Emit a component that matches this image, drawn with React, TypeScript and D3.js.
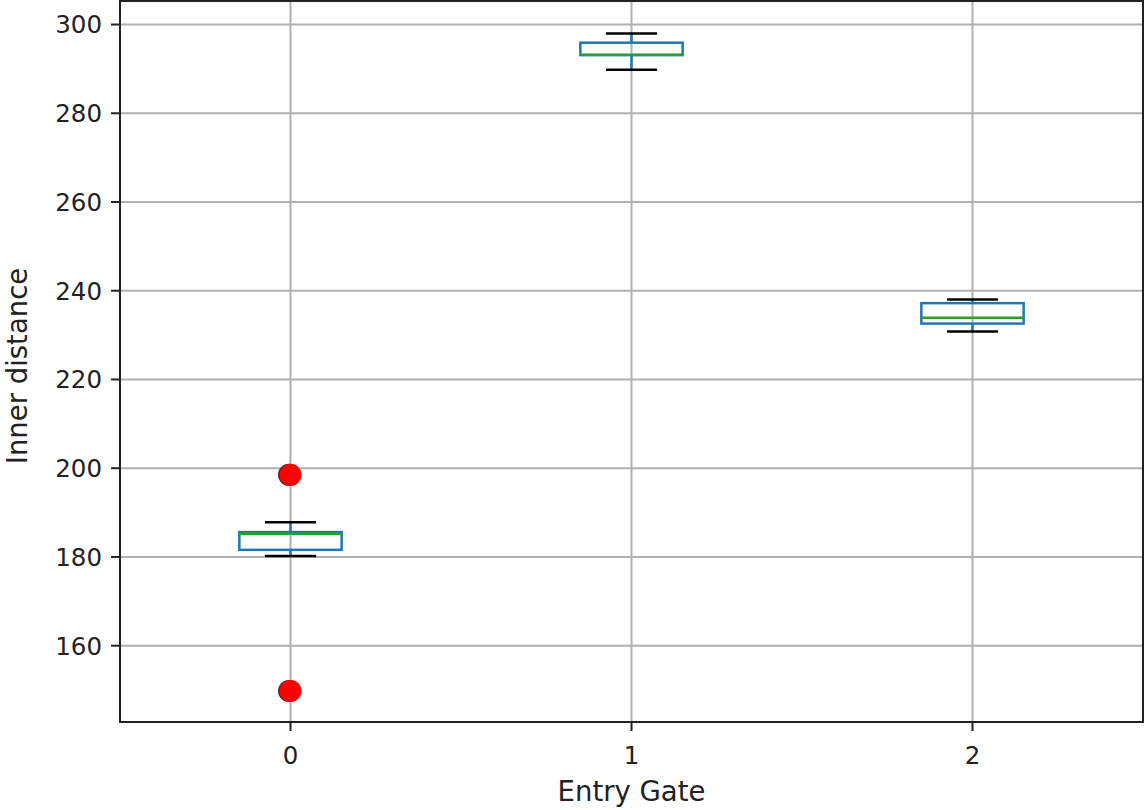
import React, { useEffect, useRef } from "react";
import * as d3 from "d3";

const gates = [0, 1, 2];
const whiskerLow = [180.2, 289.8, 230.8];
const q1 = [181.6, 293.1, 232.6];
const medians = [185.2, 293.2, 233.9];
const q3 = [185.6, 295.9, 237.2];
const whiskerHigh = [187.8, 298.0, 238.0];
const outlierGate = [0, 0];
const outlierValue = [198.5, 149.8];
const yTicks = [160, 180, 200, 220, 240, 260, 280, 300];

const App = () => {
  const ref = useRef<SVGSVGElement>(null);

  useEffect(() => {
    const width = 1145;
    const height = 810;
    const margin = { top: 1, left: 120, bottom: 88, right: 2 };
    const iwidth = width - margin.left - margin.right;
    const iheight = height - margin.top - margin.bottom;
    const font = "DejaVu Sans, sans-serif";

    const svg = d3.select(ref.current);
    svg.selectAll("*").remove();
    const g = svg
      .append("g")
      .attr("transform", `translate(${margin.left},${margin.top})`);

    const x = d3.scaleLinear().domain([-0.5, 2.5]).range([0, iwidth]);
    const y = d3.scaleLinear().domain([142.8, 305.3]).range([iheight, 0]);

    // grid
    g.selectAll(".gy")
      .data(yTicks)
      .enter()
      .append("line")
      .attr("x1", 0)
      .attr("x2", iwidth)
      .attr("y1", (d) => y(d))
      .attr("y2", (d) => y(d))
      .attr("stroke", "#b0b0b0")
      .attr("stroke-width", 2);
    g.selectAll(".gx")
      .data(gates)
      .enter()
      .append("line")
      .attr("x1", (d) => x(d))
      .attr("x2", (d) => x(d))
      .attr("y1", 0)
      .attr("y2", iheight)
      .attr("stroke", "#b0b0b0")
      .attr("stroke-width", 2);

    const boxW = x(0.15) - x(0);
    const capW = x(0.075) - x(0);

    gates.forEach((gate, i) => {
      const cx = x(gate);
      const line = (x1: number, y1: number, x2: number, y2: number, c: string) =>
        g.append("line")
          .attr("x1", x1).attr("y1", y1).attr("x2", x2).attr("y2", y2)
          .attr("stroke", c).attr("stroke-width", 2.5);
      // whiskers
      line(cx, y(q3[i]), cx, y(whiskerHigh[i]), "#1f77b4");
      line(cx, y(q1[i]), cx, y(whiskerLow[i]), "#1f77b4");
      // caps
      line(cx - capW, y(whiskerHigh[i]), cx + capW, y(whiskerHigh[i]), "#000");
      line(cx - capW, y(whiskerLow[i]), cx + capW, y(whiskerLow[i]), "#000");
      // box
      g.append("rect")
        .attr("x", cx - boxW)
        .attr("y", y(q3[i]))
        .attr("width", boxW * 2)
        .attr("height", y(q1[i]) - y(q3[i]))
        .attr("fill", "none")
        .attr("stroke", "#1f77b4")
        .attr("stroke-width", 2.5);
      // median
      line(cx - boxW, y(medians[i]), cx + boxW, y(medians[i]), "#2ca02c");
    });

    // outliers (slight dark edge on the left like the reference)
    g.selectAll(".outs")
      .data(outlierValue)
      .enter()
      .append("circle")
      .attr("cx", (d, i) => x(outlierGate[i]) - 1.5)
      .attr("cy", (d) => y(d))
      .attr("r", 11)
      .attr("fill", "#333");
    g.selectAll(".out")
      .data(outlierValue)
      .enter()
      .append("circle")
      .attr("cx", (d, i) => x(outlierGate[i]))
      .attr("cy", (d) => y(d))
      .attr("r", 11)
      .attr("fill", "#ff0000");

    // spines
    g.append("rect")
      .attr("width", iwidth)
      .attr("height", iheight)
      .attr("fill", "none")
      .attr("stroke", "#222")
      .attr("stroke-width", 2);

    // y axis
    const ya = g.append("g");
    yTicks.forEach((t) => {
      ya.append("line")
        .attr("x1", -9).attr("x2", 0)
        .attr("y1", y(t)).attr("y2", y(t))
        .attr("stroke", "#222").attr("stroke-width", 2);
      ya.append("text")
        .attr("x", -18)
        .attr("y", y(t))
        .attr("dy", "0.36em")
        .attr("text-anchor", "end")
        .attr("font-family", font)
        .attr("font-size", 24.5)
        .attr("fill", "#222")
        .text(t);
    });

    // x axis
    const xa = g.append("g").attr("transform", `translate(0,${iheight})`);
    gates.forEach((t) => {
      xa.append("line")
        .attr("x1", x(t)).attr("x2", x(t))
        .attr("y1", 0).attr("y2", 9)
        .attr("stroke", "#222").attr("stroke-width", 2);
      xa.append("text")
        .attr("x", x(t))
        .attr("y", 42)
        .attr("text-anchor", "middle")
        .attr("font-family", font)
        .attr("font-size", 24.5)
        .attr("fill", "#222")
        .text(t);
    });

    svg.append("text")
      .attr("x", margin.left + x(1))
      .attr("y", 801)
      .attr("text-anchor", "middle")
      .attr("font-family", font)
      .attr("font-size", 27.5)
      .attr("fill", "#222")
      .text("Entry Gate");

    svg.append("text")
      .attr("transform", `translate(27,366) rotate(-90)`)
      .attr("text-anchor", "middle")
      .attr("font-family", font)
      .attr("font-size", 27.5)
      .attr("fill", "#222")
      .text("Inner distance");
  }, []);

  return (
    <div style={{ position: "absolute", left: 0, top: 0, background: "#fff" }}>
      <svg ref={ref} width={1145} height={810} style={{ display: "block" }} />
    </div>
  );
};

export default App;
